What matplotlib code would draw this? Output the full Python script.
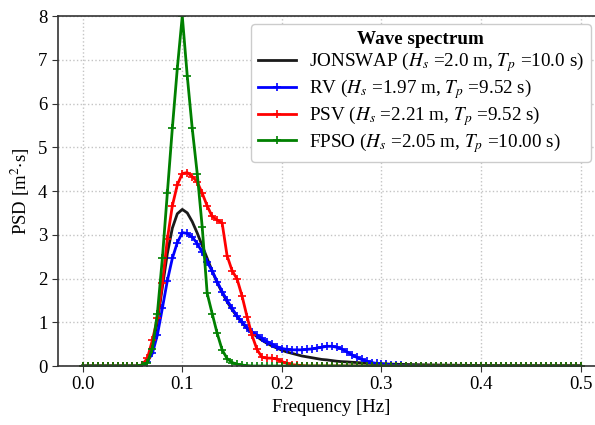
import numpy as np
import matplotlib
matplotlib.use("Agg")
import matplotlib.pyplot as plt

plt.rcParams['font.family'] = ['Liberation Serif', 'DejaVu Serif']
plt.rcParams['mathtext.fontset'] = 'stix'

# frequency grid [Hz], 0.005 Hz step
freq = np.linspace(0.0, 0.5, 101)

# PSD values [m^2 s], one per frequency bin (rows of 10 bins)
jonswap = [
    0, 0, 0, 0, 0, 0, 0, 0, 0, 0,
    0, 0, 0.01, 0.10, 0.41, 1.01, 1.80, 2.57, 3.15, 3.48,
    3.58, 3.50, 3.30, 3.04, 2.75, 2.46, 2.17, 1.91, 1.68, 1.47,
    1.29, 1.13, 0.99, 0.86, 0.76, 0.67, 0.59, 0.52, 0.46, 0.41,
    0.36, 0.32, 0.29, 0.26, 0.23, 0.21, 0.19, 0.17, 0.15, 0.14,
    0.125, 0.11, 0.10, 0.095, 0.086, 0.08, 0.072, 0.066, 0.06, 0.055,
    0.051, 0.047, 0.043, 0.040, 0.037, 0.034, 0.032, 0.030, 0.028, 0.026,
    0.024, 0.023, 0.021, 0.020, 0.019, 0.018, 0.016, 0.015, 0.014, 0.013,
    0.012, 0.012, 0.011, 0.010, 0.010, 0.009, 0.009, 0.008, 0.008, 0.007,
    0.007, 0.007, 0.006, 0.006, 0.006, 0.005, 0.005, 0.005, 0.005, 0.004,
    0.004,
]
rv = [
    0, 0, 0, 0, 0, 0, 0, 0, 0, 0,
    0, 0, 0.02, 0.10, 0.29, 0.71, 1.32, 1.95, 2.46, 2.82,
    3.05, 3.03, 2.95, 2.80, 2.60, 2.38, 2.17, 1.93, 1.70, 1.50,
    1.32, 1.14, 1.01, 0.88, 0.78, 0.71, 0.63, 0.56, 0.50, 0.44,
    0.40, 0.38, 0.37, 0.37, 0.37, 0.38, 0.39, 0.41, 0.43, 0.45,
    0.45, 0.43, 0.39, 0.33, 0.26, 0.20, 0.15, 0.11, 0.08, 0.06,
    0.05, 0.04, 0.03, 0.02, 0.02, 0.01, 0.01, 0.01, 0, 0,
    0, 0, 0, 0, 0, 0, 0, 0, 0, 0,
    0, 0, 0, 0, 0, 0, 0, 0, 0, 0,
    0, 0, 0, 0, 0, 0, 0, 0, 0, 0,
    0,
]
psv = [
    0, 0, 0, 0, 0, 0, 0, 0, 0, 0,
    0, 0, 0.03, 0.18, 0.59, 1.09, 1.89, 2.90, 3.66, 4.14,
    4.40, 4.42, 4.33, 4.21, 3.95, 3.66, 3.42, 3.34, 3.27, 2.52,
    2.18, 1.99, 1.60, 1.13, 0.70, 0.38, 0.20, 0.18, 0.18, 0.16,
    0.10, 0.06, 0.03, 0.02, 0.01, 0, 0, 0, 0, 0,
    0, 0, 0, 0, 0, 0, 0, 0, 0, 0,
    0, 0, 0, 0, 0, 0, 0, 0, 0, 0,
    0, 0, 0, 0, 0, 0, 0, 0, 0, 0,
    0, 0, 0, 0, 0, 0, 0, 0, 0, 0,
    0, 0, 0, 0, 0, 0, 0, 0, 0, 0,
    0,
]
fpso = [
    0, 0, 0, 0, 0, 0, 0, 0, 0, 0,
    0, 0, 0.02, 0.08, 0.40, 1.20, 2.46, 3.95, 5.43, 6.80,
    8.00, 6.63, 5.43, 4.40, 3.18, 1.66, 1.20, 0.75, 0.37, 0.17,
    0.08, 0.04, 0.02, 0.01, 0, 0, 0, 0, 0, 0,
    0, 0, 0, 0, 0, 0, 0, 0, 0, 0,
    0, 0, 0, 0, 0, 0, 0, 0, 0, 0,
    0, 0, 0, 0, 0, 0, 0, 0, 0, 0,
    0, 0, 0, 0, 0, 0, 0, 0, 0, 0,
    0, 0, 0, 0, 0, 0, 0, 0, 0, 0,
    0, 0, 0, 0, 0, 0, 0, 0, 0, 0,
    0,
]

fig = plt.figure(figsize=(5.95, 4.25), dpi=100)
ax = fig.add_axes([0.0971, 0.1388, 0.9207, 0.8235])

ax.plot(freq, jonswap, color='#1a1a1a', lw=2,
        label=r'JONSWAP ($H_s$ =2.0 m, $T_p$ =10.0 s)')
ax.plot(freq, rv, color='blue', lw=2, marker='+', ms=6, mew=1.2,
        label=r'RV ($H_s$ =1.97 m, $T_p$ =9.52 s)')
ax.plot(freq, psv, color='red', lw=2, marker='+', ms=6, mew=1.2,
        label=r'PSV ($H_s$ =2.21 m, $T_p$ =9.52 s)')
ax.plot(freq, fpso, color='green', lw=2, marker='+', ms=6, mew=1.2,
        label=r'FPSO ($H_s$ =2.05 m, $T_p$ =10.00 s)')

ax.set_xlim(-0.025, 0.525)
ax.set_ylim(0, 8)
ax.set_xticks([0.0, 0.1, 0.2, 0.3, 0.4, 0.5])
ax.set_yticks(range(9))
ax.tick_params(labelsize=13.5, direction='out', length=4, color='#333333')
ax.set_xlabel('Frequency [Hz]', fontsize=13.5)
ax.set_ylabel(r'PSD [m$^2$$\cdot$s]', fontsize=13.5)
ax.grid(True, linestyle=':', color='#c4c4c4', lw=1)
for s in ax.spines.values():
    s.set_color('#333333')
    s.set_linewidth(1.2)

leg = ax.legend(title='Wave spectrum', loc='upper right', fontsize=13.8,
                title_fontproperties={'weight': 'bold', 'size': 13.8},
                bbox_to_anchor=(591 / 595, 1 - 24 / 425),
                bbox_transform=fig.transFigure, borderaxespad=0,
                framealpha=1, handlelength=2.0, handletextpad=0.7,
                borderpad=0.35, labelspacing=0.15)
leg.get_frame().set_edgecolor('#cccccc')

fig.savefig('out.png', dpi=100)
